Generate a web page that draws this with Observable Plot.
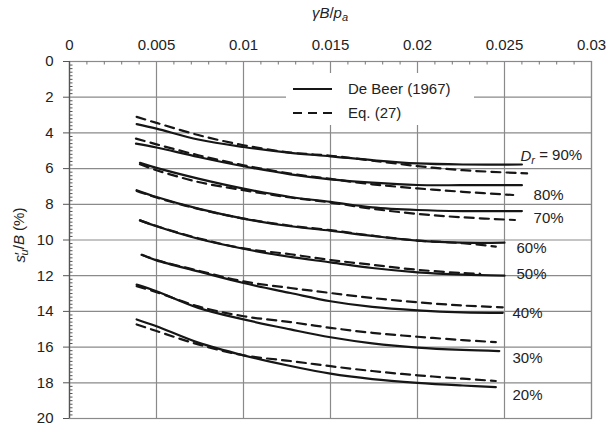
<!DOCTYPE html>
<html><head><meta charset="utf-8">
<script src="https://cdn.jsdelivr.net/npm/d3@7"></script>
<script src="https://cdn.jsdelivr.net/npm/@observablehq/plot@0.6"></script>
<style>
body{margin:0;background:#fff;font-family:"Liberation Sans",Arial,sans-serif;}
#wrap{position:relative;width:610px;height:424px;}
#legend{position:absolute;left:286px;top:73px;width:188px;height:52px;background:#fff;z-index:2;}
</style></head><body><div id="wrap"></div>
<script>
// ---- data ----
const drLabels = ["90%", "80%", "70%", "60%", "50%", "40%", "30%", "20%"];
const xMid = [0.005, 0.0074, 0.01, 0.0127, 0.015, 0.0174, 0.02, 0.0226];

// De Beer (1967) solid curves: start x, end x, y values [start, at xMid..., end]
const deBeerX0 = [0.00386, 0.00382, 0.00405, 0.00386, 0.00405, 0.00415, 0.00386, 0.00386];
const deBeerX1 = [0.0260, 0.0260, 0.0260, 0.0250, 0.0250, 0.0249, 0.0247, 0.0245];
const deBeerY = [
  [3.51, 3.76, 4.37, 4.79, 5.12, 5.31, 5.53, 5.71, 5.77, 5.77],
  [4.60, 4.82, 5.35, 5.87, 6.32, 6.60, 6.79, 6.92, 6.93, 6.93],
  [5.68, 5.96, 6.56, 7.12, 7.59, 7.86, 8.17, 8.32, 8.38, 8.38],
  [7.21, 7.59, 8.24, 8.80, 9.23, 9.48, 9.77, 10.03, 10.15, 10.15],
  [8.90, 9.23, 9.93, 10.49, 10.95, 11.25, 11.57, 11.81, 11.94, 12.00],
  [10.83, 11.14, 11.76, 12.41, 12.97, 13.43, 13.75, 13.94, 14.05, 14.08],
  [12.50, 12.87, 13.80, 14.45, 15.01, 15.45, 15.79, 16.03, 16.16, 16.22],
  [14.45, 14.83, 15.75, 16.46, 17.06, 17.49, 17.79, 18.00, 18.15, 18.24]
];

// Eq. (27) dashed curves
const eqX0 = [0.00386, 0.00382, 0.00405, 0.00386, 0.00405, 0.00415, 0.00386, 0.00386];
const eqX1 = [0.0263, 0.0255, 0.0256, 0.0245, 0.0236, 0.0249, 0.0245, 0.0245];
const eqY = [
  [3.10, 3.44, 4.12, 4.69, 5.10, 5.28, 5.55, 5.86, 6.09, 6.27],
  [4.32, 4.64, 5.25, 5.81, 6.28, 6.58, 6.88, 7.11, 7.30, 7.48],
  [5.76, 6.09, 6.75, 7.21, 7.62, 7.90, 8.25, 8.54, 8.73, 8.88],
  [7.25, 7.62, 8.26, 8.80, 9.20, 9.45, 9.76, 10.03, 10.18, 10.37],
  [8.90, 9.22, 9.90, 10.47, 10.80, 11.12, 11.39, 11.67, 11.85, 11.89],
  [10.83, 11.12, 11.72, 12.32, 12.69, 12.97, 13.25, 13.49, 13.67, 13.77],
  [12.59, 12.92, 13.72, 14.27, 14.60, 14.92, 15.20, 15.42, 15.61, 15.72],
  [14.73, 15.10, 15.85, 16.46, 16.78, 17.07, 17.34, 17.58, 17.77, 17.90]
];

// curve labels (anchor in data units)
const labelText = ["Dr = 90%", "80%", "70%", "60%", "50%", "40%", "30%", "20%"];
const labelX = [0.02592, 0.02667, 0.02667, 0.02569, 0.02569, 0.02546, 0.02546, 0.02546];
const labelY = [5.3, 7.5, 8.76, 10.44, 11.9, 14.08, 16.6, 18.7];

// axes
const xTicks = [0, 0.005, 0.01, 0.015, 0.02, 0.025, 0.03];
const xTickLabels = ["0", "0.005", "0.01", "0.015", "0.02", "0.025", "0.03"];
const yTicks = [0, 2, 4, 6, 8, 10, 12, 14, 16, 18, 20];
const yTickLabels = ["0", "2", "4", "6", "8", "10", "12", "14", "16", "18", "20"];

// ---- build rows ----
function rows(x0, x1, ys, src) {
  const out = [];
  ys.forEach((arr, k) => {
    const xs = [x0[k], ...xMid, x1[k]];
    xs.forEach((x, j) => out.push({dr: drLabels[k], x, y: arr[j], src}));
  });
  return out;
}
const solidRows = rows(deBeerX0, deBeerX1, deBeerY, "De Beer (1967)");
const dashRows = rows(eqX0, eqX1, eqY, "Eq. (27)");
const labelRows = labelText.map((t, i) => ({t, x: labelX[i], y: labelY[i]}));

const minorY = d3.range(0, 20.001, 0.2).filter(v => Math.abs(v / 2 - Math.round(v / 2)) > 1e-6);
const minorX = d3.range(0, 0.03001, 0.001).filter(v => Math.abs(v / 0.005 - Math.round(v / 0.005)) > 1e-6);

const gridColor = "#8a8a8a";
const ink = "#161616";

const plot = Plot.plot({
  width: 610, height: 424,
  marginLeft: 69, marginRight: 19, marginTop: 61, marginBottom: 6,
  style: {fontFamily: "'Liberation Sans', Arial, sans-serif", fontSize: "15px", color: "#222", background: "#fff"},
  x: {domain: [0, 0.03]},
  y: {domain: [0, 20], reverse: true},
  marks: [
    Plot.gridX(xTicks, {stroke: gridColor, strokeOpacity: 1, strokeWidth: 1.2}),
    Plot.gridY(yTicks, {stroke: gridColor, strokeOpacity: 1, strokeWidth: 1.2}),
    Plot.frame({stroke: gridColor, strokeWidth: 1.2}),
    Plot.ruleX([0], {stroke: "#555", strokeWidth: 1.2}),
    Plot.ruleY(minorY, {x1: 0, x2: 0, insetRight: -3.5, stroke: "#555"}),
    Plot.ruleX(minorX, {y1: 0, y2: 0, insetBottom: -3.5, stroke: "#777"}),
    Plot.axisX({anchor: "top", ticks: xTicks, tickFormat: d => xTickLabels[xTicks.indexOf(d)], tickSize: 0, tickPadding: 12, label: null, fontSize: 15}),
    Plot.axisY({anchor: "left", ticks: yTicks, tickFormat: d => yTickLabels[yTicks.indexOf(d)], tickSize: 6, tickPadding: 10, label: null, fontSize: 15, stroke: "#555"}),
    Plot.line(solidRows, {x: "x", y: "y", z: "dr", stroke: ink, strokeWidth: 2.2, curve: "catmull-rom"}),
    Plot.line(dashRows, {x: "x", y: "y", z: "dr", stroke: ink, strokeWidth: 2.2, strokeDasharray: "9,6", curve: "catmull-rom"}),
    Plot.text(labelRows, {x: "x", y: "y", text: "t", textAnchor: "start", fontSize: 15, fill: "#222"})
  ]
});

const wrap = document.getElementById("wrap");
wrap.appendChild(plot);
const svg = d3.select(plot);

// rich label for 90%
svg.selectAll("text").filter(function(){ return this.textContent === "Dr = 90%"; }).each(function(){
  const t = d3.select(this);
  t.text(null);
  t.append("tspan").attr("font-style", "italic").text("D");
  t.append("tspan").attr("font-style", "italic").attr("font-size", "11px").attr("dy", "0.3em").text("r");
  t.append("tspan").attr("dy", "-0.3em").text(" = 90%");
});

// axis titles
const xt = svg.append("text").attr("x", 330).attr("y", 18).attr("text-anchor", "middle")
  .attr("font-size", 15).attr("fill", "#222").attr("font-family", "'Liberation Sans', Arial, sans-serif");
xt.append("tspan").attr("font-style", "italic").text("γB");
xt.append("tspan").text("/");
xt.append("tspan").attr("font-style", "italic").text("p");
xt.append("tspan").attr("font-style", "italic").attr("font-size", "11px").attr("dy", "0.3em").text("a");

const yt = svg.append("text").attr("transform", "translate(25,235) rotate(-90)").attr("text-anchor", "middle")
  .attr("font-size", 15).attr("fill", "#222").attr("font-family", "'Liberation Sans', Arial, sans-serif");
yt.append("tspan").attr("font-style", "italic").text("s");
yt.append("tspan").text("′");
yt.append("tspan").attr("font-style", "italic").attr("font-size", "11px").attr("dx", "-0.3em").attr("dy", "0.3em").text("u");
yt.append("tspan").attr("dy", "-0.3em").text("/");
yt.append("tspan").attr("font-style", "italic").text("B");
yt.append("tspan").text(" (%)");

// legend
const leg = document.createElement("div");
leg.id = "legend";
leg.innerHTML = `<svg width="188" height="52" style="font-family:'Liberation Sans',Arial,sans-serif;font-size:15px">
<line x1="7" x2="46" y1="16" y2="16" stroke="${ink}" stroke-width="2.2"/>
<text x="62" y="21" fill="#222">De Beer (1967)</text>
<line x1="7" x2="46" y1="40" y2="40" stroke="${ink}" stroke-width="2.2" stroke-dasharray="9,6"/>
<text x="62" y="45" fill="#222">Eq. (27)</text></svg>`;
wrap.appendChild(leg);
</script></body></html>
